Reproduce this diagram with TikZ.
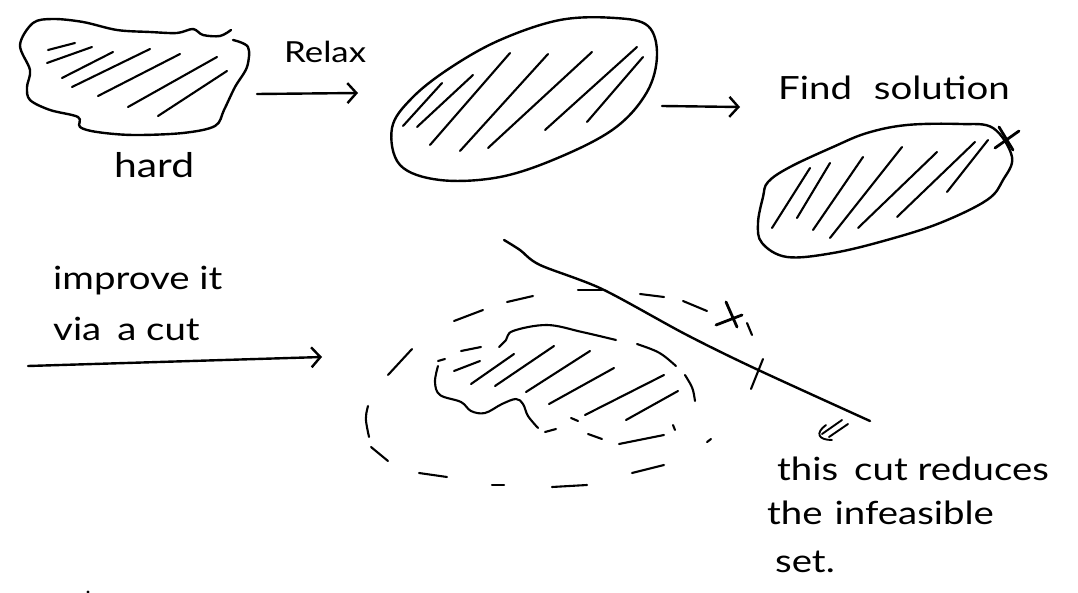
\documentclass[tikz,border=0pt]{standalone}
\usepackage{fontspec}
\setmainfont{Lato}[FakeStretch=1.2]
\usetikzlibrary{arrows.meta}
\begin{document}
\begin{tikzpicture}[x=1pt,y=-1pt, line cap=round, line join=round,
  ink/.style={line width=2.4pt},
  hatch/.style={line width=2.1pt},
  arr/.style={ink, -{Straight Barb[length=9pt,width=20pt]}},
  lbl/.style={anchor=base west, inner sep=0pt, font=\fontsize{32}{38}\selectfont}]
\fill[white] (0,0) rectangle (1078,593);
\useasboundingbox (0,0) rectangle (1078,593);

% ---------- shape 1: hard blob
\draw[ink] plot[smooth, tension=0.55] coordinates {(233,40) (248,47) (247,67) (235,87) (224,110) (215,126) (183,133) (133,135) (97,132) (80,127) (78,117) (50,110) (30,100) (27,87) (30,70) (20,45) (33,23) (53,19) (83,22) (117,30) (150,32) (177,33) (193,29) (203,35) (220,36) (231,30)};
\foreach \a/\b/\c/\d in {48/50/75/43, 47/63/92/47, 62/78/113/52, 72/87/150/49, 98/96/180/54, 128/107/217/57, 158/116/227/71}
  \draw[hatch] (\a,\b) -- (\c,\d);
\node[lbl, font=\fontsize{34}{40}\selectfont] (hard) at (114,178) {hard};

% ---------- arrow 1
\coordinate (a1s) at (257,94);
\coordinate (a1e) at (358,93);
\draw[arr] (a1s) -- (a1e);
\node[lbl, font=\fontsize{29}{34}\selectfont] (relax) at (284,63) {Relax};

% ---------- shape 2: relaxed set
\draw[ink] plot[smooth cycle, tension=0.6] coordinates {(392,128) (412,98) (450,68) (500,40) (560,20) (615,18) (648,26) (657,55) (647,92) (615,128) (560,157) (500,177) (440,180) (400,165)};
\foreach \a/\b/\c/\d in {403/126/442/83, 417/127/473/75, 430/145/510/53, 460/151/548/54, 488/148/592/52, 545/130/637/47, 587/122/643/57}
  \draw[hatch] (\a,\b) -- (\c,\d);

% ---------- arrow 2
\coordinate (a2s) at (662,106);
\coordinate (a2e) at (740,107);
\draw[arr] (a2s) -- (a2e);
\node[lbl] (find) at (778,100) {Find\hspace{22pt}solution};

% ---------- shape 3: solution
\draw[ink] plot[smooth cycle, tension=0.6] coordinates {(768,182) (790,167) (833,147) (867,133) (907,125) (960,124) (993,128) (1012,157) (1003,180) (987,200) (940,223) (887,240) (833,253) (787,257) (762,243) (758,223) (763,197)};
\foreach \a/\b/\c/\d in {772/228/810/168, 797/218/830/163, 813/230/863/157, 830/238/902/147, 858/228/937/152, 897/217/975/142, 947/192/988/140}
  \draw[hatch] (\a,\b) -- (\c,\d);
\draw[ink, line width=2.8pt] (999,127) -- (1013,150) (995,148) -- (1019,131);

% ---------- lower text and arrow 3
\node[lbl] (improve) at (53,290) {improve it};
\node[lbl] (via) at (53,340) {via\hspace{16pt}a cut};
\coordinate (a3s) at (28,366);
\coordinate (a3e) at (322,357);
\draw[arr] (a3s) -- (a3e);

% ---------- outer dashed ring
\foreach \a/\b/\c/\d in {454/321/483/310, 507/302/533/296, 578/290/602/290, 640/294/664/297, 683/301/707/311, 747/323/752/335, 707/442/711/439, 632/473/664/465, 552/487/587/485, 492/485/504/485, 419/473/447/477, 371/447/388/461, 388/375/412/349}
  \draw[hatch] (\a,\b) -- (\c,\d);
\draw[hatch] (368,406) .. controls (365,418) .. (369,437);
\draw[hatch] (751,389) -- (763,359);

% ---------- inner blob
\draw[hatch] plot[smooth, tension=0.6] coordinates {(616,340) (582,332) (547,325) (513,331) (506,340) (499,347)};
\draw[hatch] (481,347) -- (461,351);
\draw[hatch] (445,359) -- (438,361);
\draw[hatch] plot[smooth, tension=0.6] coordinates {(438,366) (435,382) (440,395) (461,402) (471,411) (485,413) (502,404) (516,399) (523,404) (528,416) (538,428)};
\draw[hatch] (545,432) -- (556,429);
\draw[hatch] (571,418) -- (578,421);
\draw[hatch] (588,434) -- (602,439);
\draw[hatch] (619,444) -- (664,435);
\draw[hatch] (673,425) -- (675,430);
\draw[hatch] (695,401) .. controls (693,388) .. (685,375);
\draw[hatch] (637,344) .. controls (660,352) .. (676,366);
\foreach \a/\b/\c/\d in {454/371/480/361, 471/384/514/354, 495/386/554/346, 526/392/590/351, 549/404/614/368, 585/415/664/375, 626/420/678/391}
  \draw[hatch] (\a,\b) -- (\c,\d);

% ---------- the cut
\draw[ink] plot[smooth, tension=0.5] coordinates {(504,240) (520,250) (540,265) (602,289) (685,334) (754,368) (870,421)};
\draw[ink, line width=2.8pt] (726,302) -- (737,327) (716,325) -- (742,315);

% ---------- note: double arrow pointing down-left
\coordinate (d1) at (842,420);
\coordinate (d2) at (822,434);
\coordinate (e1) at (848,424);
\coordinate (e2) at (829,437);
\draw[line width=1.9pt] (d1) -- (d2) (e1) -- (e2);
\draw[line width=1.9pt] (826,425) .. controls (815,433) and (818,440) .. (832,440);
\node[lbl] (n1) at (777,480) {this\hspace{16pt}cut reduces};
\node[lbl] (n2) at (767,524) {the\hspace{12pt}infeasible};
\node[lbl] (n3) at (775,572) {set.};

\fill (88,592) circle (1.6pt);
\end{tikzpicture}
\end{document}
